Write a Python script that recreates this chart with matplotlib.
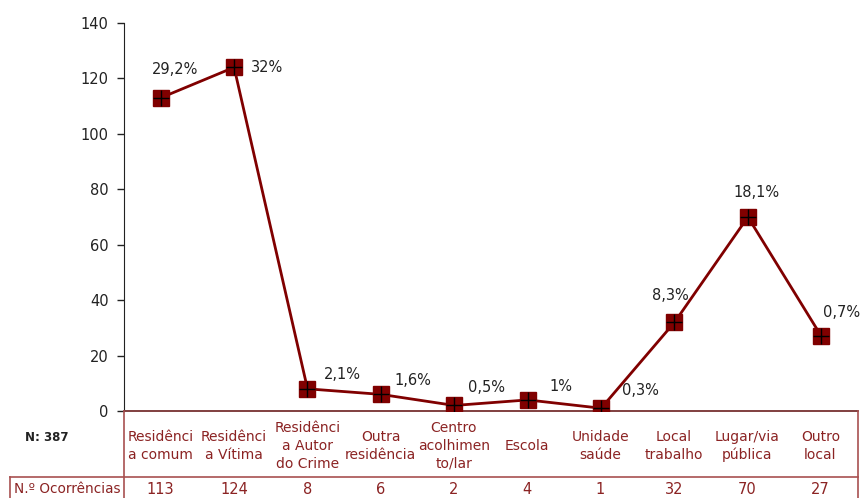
import matplotlib
matplotlib.use("Agg")
import matplotlib.pyplot as plt
from matplotlib.lines import Line2D

# dados
categorias = ["Residênci\na comum", "Residênci\na Vítima", "Residênci\na Autor\ndo Crime",
              "Outra\nresidência", "Centro\nacolhimen\nto/lar", "Escola", "Unidade\nsaúde",
              "Local\ntrabalho", "Lugar/via\npública", "Outro\nlocal"]
ocorrencias = [113, 124, 8, 6, 2, 4, 1, 32, 70, 27]
percentagens = ["29,2%", "32%", "2,1%", "1,6%", "0,5%", "1%", "0,3%", "8,3%", "18,1%", "0,7%"]
total_n = 387

# deslocamento dos rótulos (pixels: dx, dy para cima)
offsets_px = [(14, 28), (33, 0), (35, 14), (32, 14), (32, 18), (33, 13),
              (39, 18), (-4, 27), (9, 25), (20, 24)]

W, H = 862, 498
VERMELHO = "#800000"
TEXTO_TAB = "#8b2323"
BORDA_TAB = "#a85050"

plt.rcParams['font.family'] = ['DejaVu Sans']

fig = plt.figure(figsize=(W / 100, H / 100), dpi=100)

def fx(x):
    return x / W

def fy(y):
    return 1 - y / H

# eixo principal
ax = fig.add_axes([fx(124), fy(411), fx(858) - fx(124), fy(23) - fy(411)])
x = list(range(len(ocorrencias)))
ax.plot(x, ocorrencias, color=VERMELHO, linewidth=2.0, zorder=2)
ax.plot(x, ocorrencias, linestyle='none', marker='s', markersize=11.5,
        markerfacecolor=VERMELHO, markeredgecolor=VERMELHO, zorder=3)
ax.plot(x, ocorrencias, linestyle='none', marker='+', markersize=11,
        markeredgecolor='black', markeredgewidth=1.0, zorder=4)

for i, (v, p) in enumerate(zip(ocorrencias, percentagens)):
    dx, dy = offsets_px[i]
    ax.annotate(p, (i, v), xytext=(dx * 0.72, dy * 0.72), textcoords='offset points',
                ha='center', va='center', fontsize=10.5, color='#222222')

ax.set_xlim(-0.5, len(ocorrencias) - 0.5)
ax.set_ylim(0, 140)
ax.set_yticks(range(0, 141, 20))
ax.set_xticks([])
ax.tick_params(axis='y', direction='out', length=5, width=1, labelsize=10.5,
               colors='#222222', pad=6)
for s in ['top', 'right']:
    ax.spines[s].set_visible(False)
ax.spines['left'].set_color('#222222')
ax.spines['bottom'].set_color('#6b1f1f')
ax.spines['bottom'].set_linewidth(1.2)

# tabela por baixo
linhas = [
    ((124, 124), (411, 498)),
    ((858, 858), (411, 498)),
    ((10, 858), (477, 477)),
    ((10, 10), (477, 498)),
]
for xs, ys in linhas:
    fig.add_artist(Line2D([fx(v) for v in xs], [fy(v) for v in ys],
                          color=BORDA_TAB, linewidth=1.2))

for i, cat in enumerate(categorias):
    xc = fx(160.65 + 73.3 * i)
    fig.text(xc, fy(446), cat, ha='center', va='center', fontsize=10,
             color=TEXTO_TAB, linespacing=1.35)
    fig.text(xc, fy(489), str(ocorrencias[i]), ha='center', va='center',
             fontsize=10.5, color=TEXTO_TAB)

fig.text(fx(47), fy(437), f"N: {total_n}", ha='center', va='center',
         fontsize=8.5, fontweight='bold', color='#222222')
fig.text(fx(14), fy(489), "N.º Ocorrências", ha='left', va='center',
         fontsize=9.8, color=TEXTO_TAB)

fig.savefig("out.png", dpi=100)
